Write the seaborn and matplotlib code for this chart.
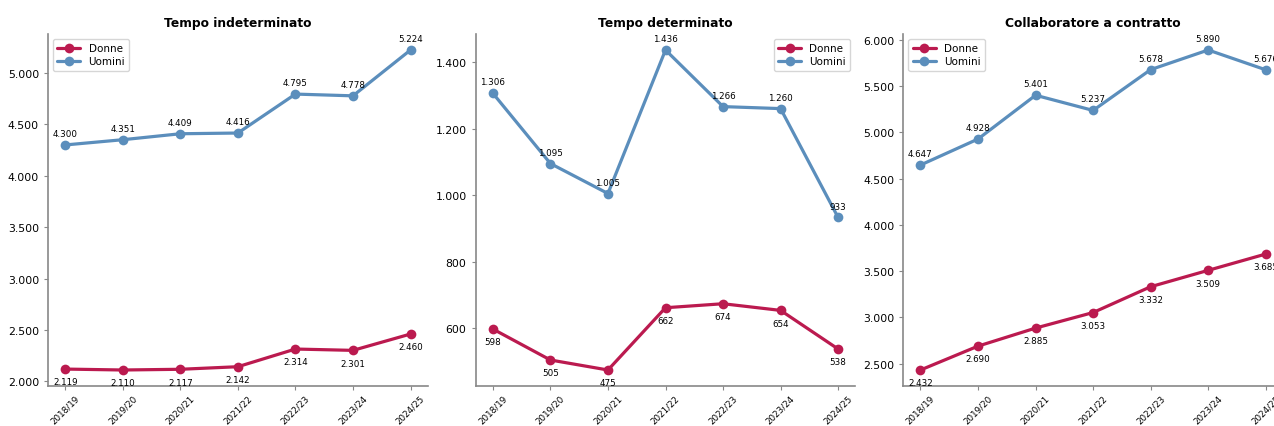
import pandas as pd
import matplotlib
matplotlib.use("Agg")
import matplotlib.pyplot as plt
import matplotlib.ticker as mticker
import seaborn as sns

# Data
anni = ["2018/19", "2019/20", "2020/21", "2021/22", "2022/23", "2023/24", "2024/25"]

indet_donne = [2119, 2110, 2117, 2142, 2314, 2301, 2460]
indet_uomini = [4300, 4351, 4409, 4416, 4795, 4778, 5224]

det_donne = [598, 505, 475, 662, 674, 654, 538]
det_uomini = [1306, 1095, 1005, 1436, 1266, 1260, 933]

collab_donne = [2432, 2690, 2885, 3053, 3332, 3509, 3685]
collab_uomini = [4647, 4928, 5401, 5237, 5678, 5890, 5676]

titoli = ["Tempo indeterminato", "Tempo determinato", "Collaboratore a contratto"]
serie = [(indet_donne, indet_uomini), (det_donne, det_uomini), (collab_donne, collab_uomini)]
legend_loc = ["upper left", "upper right", "upper left"]

colori = {"Donne": "#bb1a4f", "Uomini": "#5b8ebc"}

sns.set_style("ticks")
plt.rcParams["font.family"] = ["DejaVu Sans"]
plt.rcParams["text.color"] = "black"
plt.rcParams["xtick.color"] = "black"
plt.rcParams["ytick.color"] = "black"


def fmt_it(v):
    return f"{int(round(v)):,}".replace(",", ".")


fig, axes = plt.subplots(1, 3, figsize=(12.74, 4.27), dpi=100)
fig.subplots_adjust(left=48 / 1274, right=1283 / 1274, bottom=40 / 427, top=392 / 427, wspace=0.126)

for ax, titolo, (donne, uomini), loc in zip(axes, titoli, serie, legend_loc):
    df = pd.DataFrame({
        "anno": anni * 2,
        "valore": donne + uomini,
        "genere": ["Donne"] * len(anni) + ["Uomini"] * len(anni),
    })
    sns.lineplot(data=df, x="anno", y="valore", hue="genere", palette=colori,
                 marker="o", markersize=7, markeredgewidth=0, linewidth=2.3,
                 ax=ax, sort=False)

    for i, v in enumerate(donne):
        ax.annotate(fmt_it(v), (i, v), textcoords="offset points", xytext=(0, -6),
                    ha="center", va="top", fontsize=6.3)
    for i, v in enumerate(uomini):
        ax.annotate(fmt_it(v), (i, v), textcoords="offset points", xytext=(0, 5),
                    ha="center", va="bottom", fontsize=6.3)

    ax.set_title(titolo, fontsize=8.8, fontweight="bold")
    ax.set_xlabel("")
    ax.set_ylabel("")
    ax.yaxis.set_major_formatter(mticker.FuncFormatter(lambda v, p: fmt_it(v)))
    ax.tick_params(axis="x", labelrotation=45, labelsize=6.3, length=3, pad=2, color="#888888")
    ax.tick_params(axis="y", labelsize=7.8, length=3, color="#888888")
    for lab in ax.get_xticklabels():
        lab.set_ha("center")
    sns.despine(ax=ax)
    for s in ["left", "bottom"]:
        ax.spines[s].set_color("#888888")
        ax.spines[s].set_linewidth(1.2)
    ax.legend(loc=loc, fontsize=7.5, handlelength=2.2, borderpad=0.4, labelspacing=0.3)

fig.savefig("out.png", dpi=100)
